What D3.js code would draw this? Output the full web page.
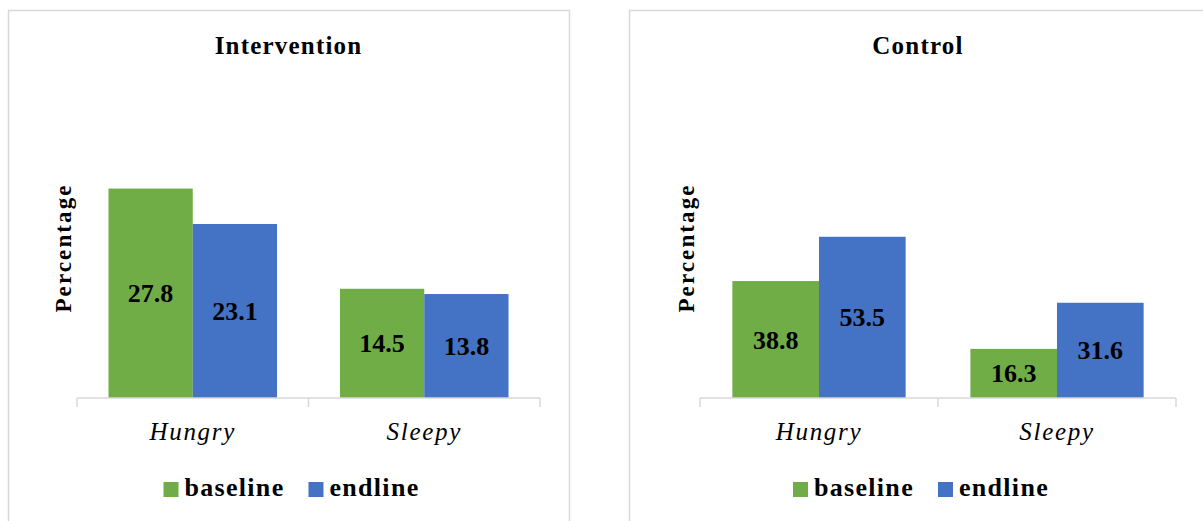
<!DOCTYPE html>
<html>
<head>
<meta charset="utf-8">
<script src="https://cdn.jsdelivr.net/npm/d3@7"></script>
<style>
  html, body { margin: 0; padding: 0; background: #ffffff; }
  svg { display: block; }
  text { font-family: "Liberation Serif", "Times New Roman", serif; fill: #000; }
</style>
</head>
<body>
<svg id="chart" width="1203" height="521"></svg>
<script>
// Share of children reported hungry / sleepy, by survey round
const categories = ["Hungry", "Sleepy"];
const seriesNames = ["baseline", "endline"];
const seriesColors = ["#70AD47", "#4472C4"];

const interventionBaseline = [27.8, 14.5];
const interventionEndline = [23.1, 13.8];
const controlBaseline = [38.8, 16.3];
const controlEndline = [53.5, 31.6];

const panels = [
  { title: "Intervention", baseline: interventionBaseline, endline: interventionEndline,
    box: [8.5, 10.5, 561], axis: [77, 540], yMax: 30 },
  { title: "Control", baseline: controlBaseline, endline: controlEndline,
    box: [629.5, 10.5, 578], axis: [700, 1176], yMax: 75 }
];

const svg = d3.select("#chart");
const axisY = 398, plotTop = 172;

panels.forEach(p => {
  const g = svg.append("g");
  const [bx, by, bw] = p.box;
  const cx = bx + bw / 2 - 0.5;

  // panel frame
  g.append("rect")
    .attr("x", bx).attr("y", by).attr("width", bw).attr("height", 540)
    .attr("fill", "#fff").attr("stroke", "#d9d9d9").attr("stroke-width", 1.5);

  // title
  g.append("text")
    .attr("x", cx).attr("y", 54)
    .attr("text-anchor", "middle")
    .attr("font-size", 25).attr("font-weight", "bold")
    .attr("letter-spacing", 1.2)
    .text(p.title);

  // y-axis title
  g.append("text")
    .attr("transform", `translate(${p.axis[0] - 6},248) rotate(-90)`)
    .attr("text-anchor", "middle")
    .attr("font-size", 23).attr("font-weight", "bold")
    .attr("letter-spacing", 2.1)
    .text("Percentage");

  const x0 = d3.scaleBand().domain(categories).range(p.axis).padding(0);
  const bwid = x0.bandwidth();
  const x1 = d3.scaleBand().domain(seriesNames)
    .range([bwid * 0.136, bwid * (1 - 0.136)]).padding(0);
  const y = d3.scaleLinear().domain([0, p.yMax]).range([axisY, plotTop]);

  const rows = categories.map((c, i) => ({
    cat: c,
    vals: [
      { s: seriesNames[0], v: p.baseline[i], color: seriesColors[0] },
      { s: seriesNames[1], v: p.endline[i], color: seriesColors[1] }
    ]
  }));

  const groups = g.selectAll("g.cat").data(rows).join("g")
    .attr("class", "cat")
    .attr("transform", d => `translate(${x0(d.cat)},0)`);

  groups.selectAll("rect").data(d => d.vals).join("rect")
    .attr("x", d => x1(d.s))
    .attr("y", d => y(d.v))
    .attr("width", x1.bandwidth())
    .attr("height", d => y(0) - y(d.v))
    .attr("fill", d => d.color);

  groups.selectAll("text.val").data(d => d.vals).join("text")
    .attr("class", "val")
    .attr("x", d => x1(d.s) + x1.bandwidth() / 2)
    .attr("y", d => (y(d.v) + y(0)) / 2 + 9)
    .attr("text-anchor", "middle")
    .attr("font-size", 26).attr("font-weight", "bold")
    .text(d => d.v.toFixed(1));

  // category axis: baseline line with ticks at band boundaries
  const axisG = g.append("g").attr("stroke", "#d9d9d9").attr("stroke-width", 1.5);
  axisG.append("line")
    .attr("x1", p.axis[0]).attr("x2", p.axis[1])
    .attr("y1", axisY).attr("y2", axisY);
  const tickXs = categories.map(c => x0(c)).concat([p.axis[1]]);
  axisG.selectAll("line.tick").data(tickXs).join("line")
    .attr("class", "tick")
    .attr("x1", d => d).attr("x2", d => d)
    .attr("y1", axisY).attr("y2", axisY + 9);

  g.selectAll("text.cat").data(categories).join("text")
    .attr("class", "cat")
    .attr("x", d => x0(d) + bwid / 2)
    .attr("y", 440)
    .attr("text-anchor", "middle")
    .attr("font-size", 25).attr("font-style", "italic")
    .attr("letter-spacing", 1.7)
    .text(d => d);

  // legend
  const leg = g.append("g");
  let lx = 0;
  seriesNames.forEach((s, i) => {
    const it = leg.append("g").attr("transform", `translate(${lx},0)`);
    it.append("rect").attr("x", 0).attr("y", -14).attr("width", 15).attr("height", 15)
      .attr("fill", seriesColors[i]);
    const t = it.append("text").attr("x", 21).attr("y", 0)
      .attr("font-size", 26).attr("font-weight", "bold")
      .attr("letter-spacing", 1.3)
      .text(s);
    lx += 21 + t.node().getComputedTextLength() + 24;
  });
  const legW = lx - 24;
  leg.attr("transform", `translate(${cx + 3 - legW / 2},496)`);
});
</script>
</body>
</html>
